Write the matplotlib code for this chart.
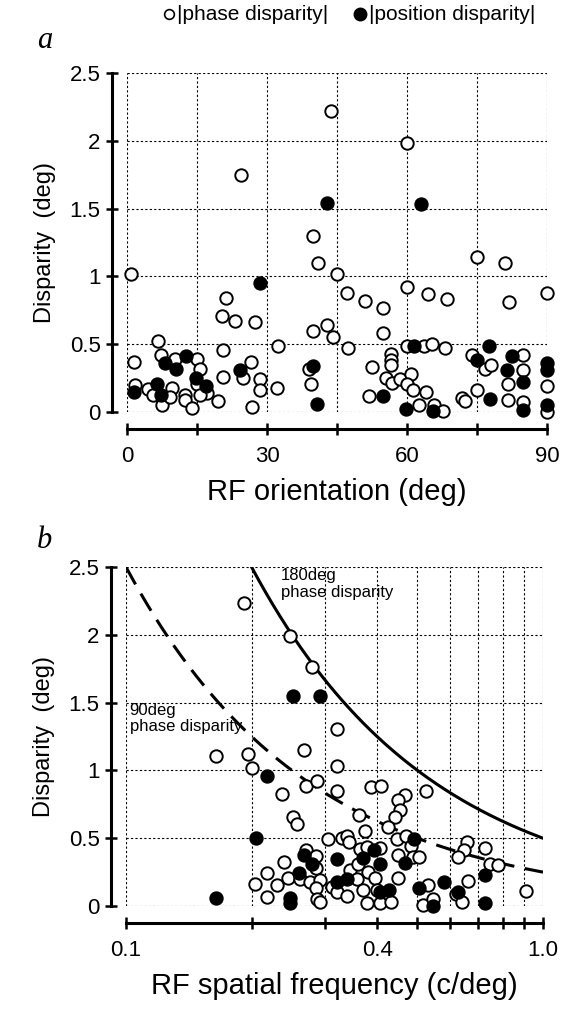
import numpy as np
import matplotlib
matplotlib.use("Agg")
import matplotlib.pyplot as plt
from matplotlib.lines import Line2D
from matplotlib.ticker import NullLocator

plt.rcParams['font.family'] = ['Liberation Sans', 'DejaVu Sans']

# ---- panel a: disparity vs RF orientation ----
orient_phase = [43.8, 24.4, 60.1, 39.9, 40.9, 0.8, 45.0, 75.1, 81.1, 21.3, 20.3, 23.1, 27.4,
                39.9, 42.8, 44.1, 6.6, 32.4, 20.6, 47.1, 50.9, 54.9, 59.9, 64.6, 68.6, 81.8,
                90.0, 54.9, 47.4, 60.1, 63.6, 65.4, 68.2, 56.5, 74.0, 84.9,
                1.6, 7.2, 10.3, 14.9, 15.6, 14.9, 17.1, 1.7, 4.6, 5.6, 9.6, 7.4, 9.2, 12.4,
                12.4, 13.9, 15.6, 19.4, 20.6, 24.9, 26.6, 28.4, 28.6, 26.8, 32.1, 38.9, 39.4,
                52.6, 51.9, 56.6, 56.6, 55.5, 56.7, 58.6, 60.8, 60.1, 61.2, 64.0, 62.6, 65.7,
                67.8, 71.7, 72.4, 74.9, 76.7, 78.1, 81.7, 81.7, 84.9, 84.9, 90.0, 90.0]
disp_phase_a = [2.22, 1.75, 1.98, 1.30, 1.10, 1.02, 1.02, 1.14, 1.10, 0.84, 0.71, 0.67, 0.66,
                0.60, 0.64, 0.55, 0.52, 0.49, 0.46, 0.88, 0.82, 0.77, 0.92, 0.87, 0.83, 0.81,
                0.875, 0.58, 0.47, 0.49, 0.485, 0.50, 0.47, 0.43, 0.42, 0.42,
                0.365, 0.42, 0.39, 0.39, 0.32, 0.21, 0.14, 0.20, 0.17, 0.125, 0.18, 0.05, 0.11, 0.125,
                0.09, 0.03, 0.125, 0.08, 0.26, 0.25, 0.365, 0.24, 0.16, 0.04, 0.18, 0.32, 0.21,
                0.33, 0.12, 0.38, 0.345, 0.25, 0.215, 0.24, 0.28, 0.21, 0.16, 0.145, 0.055, 0.055,
                0.007, 0.10, 0.08, 0.16, 0.32, 0.35, 0.21, 0.09, 0.31, 0.075, 0.19, 0.003]

orient_pos = [42.9, 62.9, 28.5, 61.4, 77.6, 82.4, 90.0, 90.0, 8.1, 12.6, 10.4, 14.8, 16.9,
              1.4, 6.4, 7.2, 24.2, 39.8, 40.8, 54.8, 59.8, 65.5, 77.8, 74.9, 81.4, 84.9,
              84.9, 90.0]
disp_pos_a = [1.54, 1.53, 0.95, 0.49, 0.49, 0.41, 0.36, 0.31, 0.36, 0.41, 0.32, 0.25, 0.19,
              0.15, 0.21, 0.125, 0.31, 0.34, 0.06, 0.12, 0.02, 0.005, 0.095, 0.38, 0.31, 0.22,
              0.015, 0.05]

# ---- panel b: disparity vs RF spatial frequency ----
sf_phase = [0.192, 0.247, 0.279, 0.321, 0.164, 0.196, 0.267, 0.2005, 0.321, 0.237, 0.270,
            0.287, 0.321, 0.387, 0.409, 0.467, 0.524, 0.449, 0.454, 0.442, 0.251, 0.257,
            0.362, 0.425, 0.374, 0.305, 0.330, 0.339, 0.343, 0.447, 0.469, 0.482, 0.658,
            0.647, 0.625, 0.270, 0.286, 0.364, 0.378, 0.406, 0.449, 0.488, 0.504, 0.239,
            0.286, 0.344, 0.360, 0.380, 0.218, 0.245, 0.261, 0.204, 0.230, 0.276, 0.292,
            0.358, 0.396, 0.449, 0.530, 0.661, 0.312, 0.286, 0.370, 0.400, 0.218, 0.287,
            0.292, 0.321, 0.339, 0.378, 0.406, 0.432, 0.515, 0.545, 0.618, 0.639, 0.726,
            0.746, 0.780, 0.910]
disp_phase_b = [2.235, 1.994, 1.763, 1.307, 1.108, 1.123, 1.152, 1.019, 1.034, 0.827, 0.886,
                0.925, 0.849, 0.874, 0.886, 0.820, 0.849, 0.783, 0.709, 0.657, 0.657, 0.606,
                0.672, 0.580, 0.554, 0.495, 0.502, 0.517, 0.473, 0.495, 0.517, 0.443, 0.473,
                0.414, 0.362, 0.414, 0.370, 0.420, 0.436, 0.428, 0.377, 0.362, 0.362, 0.325,
                0.280, 0.266, 0.310, 0.251, 0.244, 0.203, 0.196, 0.162, 0.155, 0.177, 0.192,
                0.200, 0.207, 0.207, 0.155, 0.185, 0.142, 0.130, 0.118, 0.118, 0.070, 0.052,
                0.030, 0.103, 0.074, 0.025, 0.020, 0.030, 0.007, 0.050, 0.089, 0.030, 0.428,
                0.310, 0.300, 0.110]

sf_pos = [0.251, 0.292, 0.218, 0.205, 0.491, 0.267, 0.279, 0.321, 0.393, 0.370, 0.406,
          0.467, 0.260, 0.321, 0.339, 0.504, 0.579, 0.406, 0.427, 0.247, 0.247, 0.545,
          0.625, 0.164, 0.726, 0.726]
disp_pos_b = [1.551, 1.551, 0.960, 0.502, 0.495, 0.377, 0.310, 0.347, 0.414, 0.355, 0.310,
              0.320, 0.244, 0.177, 0.200, 0.133, 0.177, 0.105, 0.118, 0.059, 0.022, 0.0,
              0.103, 0.060, 0.229, 0.020]

y_ticks = [0, 0.5, 1, 1.5, 2, 2.5]
y_tick_labels = ['0', '0.5', '1', '1.5', '2', '2.5']
orient_ticks = [0, 15, 30, 45, 60, 75, 90]
orient_labels = ['0', '', '30', '', '60', '', '90']
sf_ticks = [0.1, 0.2, 0.3, 0.4, 0.5, 0.6, 0.7, 0.8, 0.9, 1.0]
sf_labels = ['0.1', '', '', '0.4', '', '', '', '', '', '1.0']


def style_axes(ax):
    ax.grid(True, color='black', linestyle=(0, (2, 2)), linewidth=0.8)
    ax.set_axisbelow(True)
    ax.spines['top'].set_visible(False)
    ax.spines['right'].set_visible(False)
    ax.spines['left'].set_position(('outward', 11))
    ax.spines['bottom'].set_position(('outward', 12))
    ax.spines['left'].set_linewidth(2.2)
    ax.spines['bottom'].set_linewidth(2.2)
    ax.tick_params(direction='inout', length=9, width=1.8, labelsize=16)
    ax.tick_params(axis='x', pad=8)
    ax.set_ylim(0, 2.5)
    ax.set_yticks(y_ticks, labels=y_tick_labels)
    ax.set_ylabel('Disparity  (deg)', fontsize=17, labelpad=10)


def draw_points(ax, x_open, y_open, x_fill, y_fill):
    ax.scatter(x_open, y_open, s=80, facecolors='white', edgecolors='black',
               linewidths=1.4, zorder=3, clip_on=False)
    ax.scatter(x_fill, y_fill, s=80, facecolors='black', edgecolors='black',
               linewidths=1.4, zorder=4, clip_on=False)


fig = plt.figure(figsize=(5.63, 10.13), dpi=100)

# panel a
ax_a = fig.add_axes([0.2256, 0.5933, 0.746, 0.3347])
ax_a.set_xlim(0, 90)
ax_a.set_xticks(orient_ticks, labels=orient_labels)
style_axes(ax_a)
draw_points(ax_a, orient_phase, disp_phase_a, orient_pos, disp_pos_a)
ax_a.set_xlabel('RF orientation (deg)', fontsize=21, labelpad=8)

# panel b
ax_b = fig.add_axes([0.2238, 0.1056, 0.7407, 0.3347])
ax_b.set_xscale('log')
ax_b.set_xlim(0.1, 1.0)
ax_b.set_xticks(sf_ticks, labels=sf_labels)
ax_b.xaxis.set_minor_locator(NullLocator())
style_axes(ax_b)
freq = np.logspace(-1, 0, 300)
ax_b.plot(freq, 0.5 / freq, color='black', lw=2.2)
ax_b.plot(freq, 0.25 / freq, color='black', lw=2.2, dashes=(6.5, 3.5))
draw_points(ax_b, sf_phase, disp_phase_b, sf_pos, disp_pos_b)
ax_b.text(0.235, 2.49, '180deg\nphase disparity', fontsize=12, va='top', ha='left',
          linespacing=1.1)
ax_b.text(0.102, 1.5, '90deg\nphase disparity', fontsize=12, va='top', ha='left',
          linespacing=1.1)
ax_b.set_xlabel('RF spatial frequency (c/deg)', fontsize=21, labelpad=8)

# panel letters
fig.text(0.065, 1 - 40 / 1013, 'a', family='Liberation Serif', style='italic', fontsize=22,
         va='center')
fig.text(0.065, 1 - 540 / 1013, 'b', family='Liberation Serif', style='italic', fontsize=22,
         va='center')

# legend at top
ly = 1 - 14 / 1013
fig.add_artist(Line2D([0.30], [ly], marker='o', markersize=7, markerfacecolor='white',
                      markeredgecolor='black', markeredgewidth=1.2, transform=fig.transFigure))
fig.text(0.315, ly, '|phase disparity|', fontsize=15, va='center', ha='left')
fig.add_artist(Line2D([0.64], [ly], marker='o', markersize=9, markerfacecolor='black',
                      markeredgecolor='black', transform=fig.transFigure))
fig.text(0.655, ly, '|position disparity|', fontsize=15, va='center', ha='left')

fig.savefig('out.png', dpi=100)
